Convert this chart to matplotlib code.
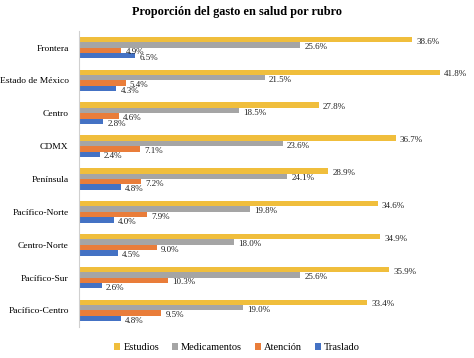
import numpy as np
import matplotlib
matplotlib.use("Agg")
import matplotlib.pyplot as plt

# data
regiones = ["Frontera", "Estado de México", "Centro", "CDMX", "Península",
            "Pacífico-Norte", "Centro-Norte", "Pacífico-Sur", "Pacífico-Centro"]
estudios = [38.6, 41.8, 27.8, 36.7, 28.9, 34.6, 34.9, 35.9, 33.4]
medicamentos = [25.6, 21.5, 18.5, 23.6, 24.1, 19.8, 18.0, 25.6, 19.0]
atencion = [4.9, 5.4, 4.6, 7.1, 7.2, 7.9, 9.0, 10.3, 9.5]
traslado = [6.5, 4.3, 2.8, 2.4, 4.8, 4.0, 4.5, 2.6, 4.8]

series = [("Estudios", estudios, "#F0BE3C"),
          ("Medicamentos", medicamentos, "#A5A5A5"),
          ("Atención", atencion, "#E97D3A"),
          ("Traslado", traslado, "#4472C4")]

plt.rcParams["font.family"] = ["Liberation Serif", "DejaVu Serif"]

fig = plt.figure(figsize=(4.74, 3.58), dpi=100)
ax = fig.add_axes([0.167, 0.087, 0.819, 0.826])

y = np.arange(len(regiones))
h = 0.165
for i, (name, vals, col) in enumerate(series):
    pos = y - 1.5 * h + i * h
    ax.barh(pos, vals, height=h, color=col, label=name)
    for p, v in zip(pos, vals):
        ax.annotate(f"{v:.1f}%", (v, p), xytext=(3, -1.5), textcoords="offset points",
                    ha="left", va="center", fontsize=6.5, color="#222222")

ax.set_yticks(y)
ax.set_yticklabels(regiones, fontsize=6.8)
ax.set_ylim(len(regiones) - 0.5, -0.5)
ax.set_xlim(0, 45)
ax.set_xticks([])
for s in ["top", "right", "bottom"]:
    ax.spines[s].set_visible(False)
ax.spines["left"].set_color("#D0D0D0")
ax.tick_params(axis="y", length=0, pad=7.5)

fig.suptitle("Proporción del gasto en salud por rubro", fontsize=8.8,
             fontweight="bold", y=0.982)
fig.legend(loc="lower center", ncol=4, frameon=False, fontsize=7.5,
           bbox_to_anchor=(0.5, -0.01), handlelength=0.6, handleheight=0.6,
           handletextpad=0.3, columnspacing=1.2)

fig.savefig("out.png", dpi=100)
